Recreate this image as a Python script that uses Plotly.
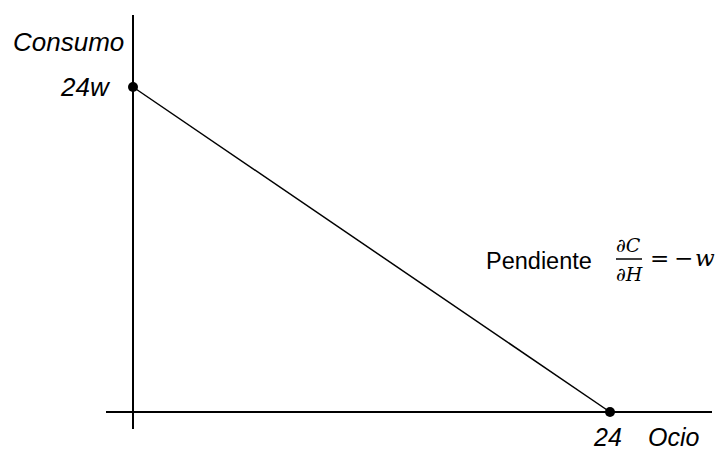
import plotly.graph_objects as go

# Data
w = 1.0
x_points = [0, 24]          # Ocio
y_points = [24 * w, 0]      # Consumo
x_label_vals = ["24"]
y_label_vals = ["24w"]

W, H = 718, 450

# reference pixel positions of the two data points
x0_ref, x24_ref = 133, 610
y0_ref, y24_ref = 412, 87
sx = (x24_ref - x0_ref) / 24.0
sy = (y0_ref - y24_ref) / 24.0
x_range = [-x0_ref / sx, (W - x0_ref) / sx]
y_range = [-(H - y0_ref) / sy, y0_ref / sy]

def dx(p):  # reference pixel x -> data x
    return (p - x0_ref) / sx

def dy(p):  # reference pixel y -> data y
    return (y0_ref - p) / sy

fig = go.Figure()

# axes
fig.add_trace(go.Scatter(x=[0, 0], y=[dy(15), dy(429)], mode="lines",
                         line=dict(color="black", width=2), hoverinfo="skip", showlegend=False))
fig.add_trace(go.Scatter(x=[dx(106), dx(712)], y=[0, 0], mode="lines",
                         line=dict(color="black", width=2), hoverinfo="skip", showlegend=False))
# budget line
fig.add_trace(go.Scatter(x=x_points, y=y_points, mode="lines+markers",
                         line=dict(color="black", width=1.5),
                         marker=dict(color="black", size=10), showlegend=False))

font_it = dict(family="Liberation Sans, Arial", size=26, color="black")
font_lbl = dict(family="Liberation Sans, Arial", size=25, color="black")
font_reg = dict(family="Liberation Sans, Arial", size=23.5, color="black")
math_small = dict(family="DejaVu Serif", size=19, color="black")
math_big = dict(family="DejaVu Serif", size=23, color="black")

ann = []
def A(text, xp, yp, xanchor="center", font=font_it):
    ann.append(dict(text=text, x=xp / W, y=1 - yp / H,
                    xref="paper", yref="paper", xanchor=xanchor, yanchor="middle",
                    showarrow=False, font=font, borderpad=0))

A("<i>Consumo</i>", 125, 42, xanchor="right")
A("<i>" + y_label_vals[0] + "</i>", 112, 87, xanchor="right")
A("<i>" + x_label_vals[0] + "</i>", 607, 437, font=font_lbl)
A("<i>Ocio</i>", 674, 437, font=font_lbl)
A("Pendiente", 539, 261, font=font_reg)
A("∂<i>C</i>", 628, 245, font=math_small)
A("∂<i>H</i>", 629, 274, font=math_small)
A("=", 659, 258, font=math_big)
A("−", 683, 258, font=math_big)
A("<i>w</i>", 705, 258, font=math_big)

fig.add_shape(type="line", xref="paper", yref="paper",
              x0=616 / W, x1=642 / W, y0=1 - 259 / H, y1=1 - 259 / H,
              line=dict(color="black", width=1.5))

fig.update_layout(
    width=W, height=H, margin=dict(l=0, r=0, t=0, b=0),
    paper_bgcolor="white", plot_bgcolor="white",
    xaxis=dict(range=x_range, visible=False, fixedrange=True),
    yaxis=dict(range=y_range, visible=False, fixedrange=True),
    annotations=ann,
    hovermode=False,
)

fig.write_html(
    "out.html",
    config={"displayModeBar": False, "staticPlot": True},
    post_script="document.body.style.margin='0';document.body.style.overflow='hidden';",
)
